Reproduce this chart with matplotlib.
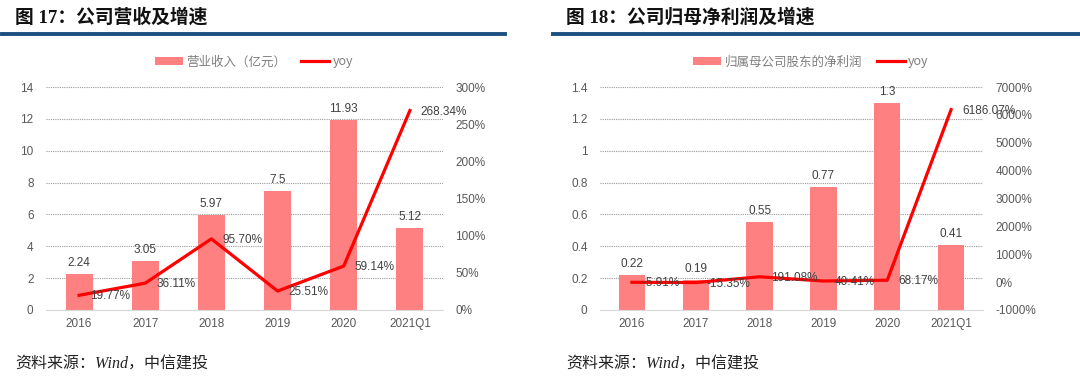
import matplotlib.pyplot as plt
from matplotlib.lines import Line2D
from matplotlib.patches import Patch
from matplotlib.ticker import FuncFormatter, MultipleLocator

W, H = 1080, 379

categories = ["2016", "2017", "2018", "2019", "2020", "2021Q1"]

revenue = [2.24, 3.05, 5.97, 7.5, 11.93, 5.12]
revenue_yoy = [19.77, 36.11, 95.70, 25.51, 59.14, 268.34]

profit = [0.22, 0.19, 0.55, 0.77, 1.3, 0.41]
profit_yoy = [-5.91, -15.35, 191.08, 40.41, 68.17, 6186.07]

BAR = "#FF8080"
LINE = "#FF0000"
TICK = "#595959"
LABEL = "#404040"
RULE = "#1B4F80"
CJK = ["Noto Sans CJK SC", "DejaVu Sans"]
SERIF_CJK = ["Liberation Serif", "Noto Sans CJK SC"]

plt.rcParams["font.family"] = ["Liberation Sans", "Noto Sans CJK SC"]


def fx(x):
    return x / W


def fy(y):
    return 1 - y / H


def fmt_num(v, _pos=None):
    return f"{v:g}" if abs(v) > 1e-9 else "0"


def draw_panel(fig, left_px, right_px, bars, yoy, ylim, ystep, y2lim, y2step,
               bar_labels, title, legend_name, legend_center, rule_span):
    ax = fig.add_axes([fx(left_px), fy(310), fx(right_px - left_px), (310 - 87) / H])
    x = range(len(categories))
    ax.bar(x, bars, width=0.41, color=BAR, zorder=2)
    ax.set_xlim(-0.5, len(categories) - 0.5)
    ax.set_ylim(*ylim)
    ax.yaxis.set_major_locator(MultipleLocator(ystep))
    ax.yaxis.set_major_formatter(FuncFormatter(fmt_num))
    ax.set_xticks(list(x), categories)
    ax.grid(True, axis="y", color="#9A9A9A", linestyle=(0, (1, 1)), linewidth=0.8, zorder=0)
    ax.set_axisbelow(True)
    for s in ("top", "right", "left"):
        ax.spines[s].set_visible(False)
    ax.spines["bottom"].set_color("#D9D9D9")
    ax.tick_params(axis="both", length=0, labelsize=8.5, labelcolor=TICK)
    ax.tick_params(axis="y", pad=9)
    ax.tick_params(axis="x", pad=6)

    for i, v in enumerate(bars):
        ax.annotate(bar_labels[i], (i, v), xytext=(0, 5), textcoords="offset pixels",
                    ha="center", va="bottom", fontsize=8.5, color=LABEL)

    ax2 = ax.twinx()
    ax2.plot(list(x), yoy, color=LINE, linewidth=2.3, zorder=4)
    ax2.set_ylim(*y2lim)
    ax2.yaxis.set_major_locator(MultipleLocator(y2step))
    ax2.yaxis.set_major_formatter(FuncFormatter(lambda v, p: f"{v:.0f}%"))
    for s in ax2.spines.values():
        s.set_visible(False)
    ax2.tick_params(axis="y", length=0, labelsize=8.5, labelcolor=TICK, pad=9)
    for i, v in enumerate(yoy):
        ax2.annotate(f"{v:.2f}%", (i, v), xytext=(11, -1), textcoords="offset pixels",
                     ha="left", va="center", fontsize=8.5, color=LABEL, zorder=5)

    handles = [Patch(facecolor=BAR, edgecolor="none"), Line2D([0], [0], color=LINE, lw=2.3)]
    fig.legend(handles, [legend_name, "yoy"], loc="center",
               bbox_to_anchor=(fx(legend_center), fy(62)), ncol=2, frameon=False,
               prop={"family": CJK, "size": 9}, labelcolor="#7F7F7F",
               handlelength=2.2, handleheight=0.6, handletextpad=0.3, columnspacing=1.2)

    fig.text(fx(rule_span[0] + 13), fy(17), title, family=SERIF_CJK, weight="bold",
             fontsize=13.5, ha="left", va="center", color="#111111")
    fig.add_artist(Line2D([fx(rule_span[0]), fx(rule_span[1])], [fy(34), fy(34)],
                          transform=fig.transFigure, color=RULE, linewidth=2.8))
    fig.text(fx(rule_span[0] + 13), fy(365), "资料来源：Wind，中信建投", family=SERIF_CJK,
             style="italic", fontsize=11.5, ha="left", va="center", color="#222222")


fig = plt.figure(figsize=(W / 100, H / 100), dpi=100)

draw_panel(fig, 46, 443, revenue, revenue_yoy, (0, 14), 2, (0, 300), 50,
           [f"{v:g}" for v in revenue], "图 17：公司营收及增速", "营业收入（亿元）",
           254, (2, 505))

draw_panel(fig, 600, 983, profit, profit_yoy, (0, 1.4), 0.2, (-1000, 7000), 1000,
           [f"{v:g}" for v in profit], "图 18：公司归母净利润及增速", "归属母公司股东的净利润",
           811, (553, 1080))

fig.savefig("out.png", dpi=100)
